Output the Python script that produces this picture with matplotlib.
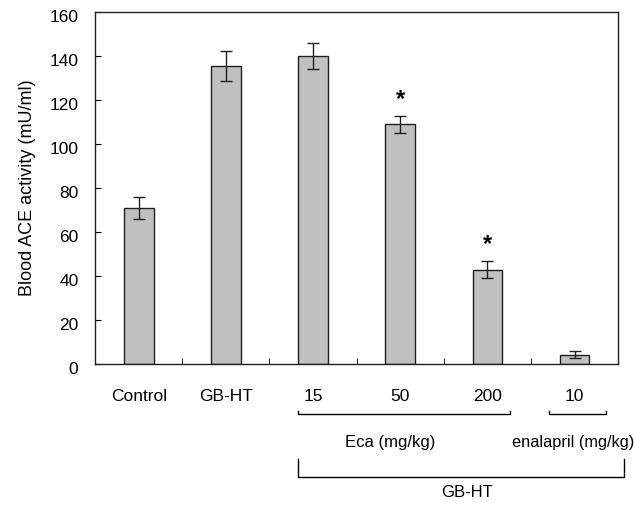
import numpy as np
import matplotlib
matplotlib.use("Agg")
import matplotlib.pyplot as plt
from matplotlib.transforms import ScaledTranslation

plt.rcParams['font.family'] = ['Liberation Sans', 'DejaVu Sans']

groups = ['Control', 'GB-HT', '15', '50', '200', '10']
ace = [71, 135.5, 140, 109, 43, 4.2]
ace_err = [5, 7, 6, 4, 4, 1.6]
significant = [False, False, False, True, True, False]

fig = plt.figure(figsize=(6.34, 5.05), dpi=100)
ax = fig.add_axes([0.150, 0.279, 0.825, 0.697])

x = np.arange(len(groups))
ax.bar(x, ace, width=0.34, color='#c0c0c0', edgecolor='#202020', linewidth=1.0, zorder=2)
ax.errorbar(x, ace, yerr=ace_err, fmt='none', ecolor='#202020', elinewidth=1.0,
            capsize=4, capthick=1.0, zorder=3)

# asterisks over significant bars
for xi, v, e, s in zip(x, ace, ace_err, significant):
    if s:
        ax.text(xi, v + e + 2.0, '*', ha='center', va='bottom', fontsize=17, fontweight='bold')

ax.set_xlim(-0.5, 5.5)
ax.set_ylim(0, 160)
ax.set_yticks(np.arange(0, 161, 20))
ax.set_xticks(x)
ax.set_xticklabels(groups, fontsize=12.5)
ax.set_xticks(np.arange(0.5, 5.5, 1), minor=True)
ax.tick_params(axis='y', direction='in', length=4, labelsize=12.5, pad=12)
ax.tick_params(axis='x', which='major', length=0, pad=18)
ax.tick_params(axis='x', which='minor', direction='in', length=4)
# y labels sit a little below their ticks in the original
shift = ScaledTranslation(0, -3 / 72, fig.dpi_scale_trans)
for lbl in ax.get_yticklabels():
    lbl.set_transform(lbl.get_transform() + shift)
ax.set_ylabel('Blood ACE activity (mU/ml)', fontsize=13, labelpad=10)
for sp in ax.spines.values():
    sp.set_linewidth(1.0)
    sp.set_color('#202020')

# group brackets below the axis
tr = ax.get_xaxis_transform()
kw = dict(color='black', lw=1.0, transform=tr, clip_on=False)
ax.plot([1.83, 1.83, 4.26, 4.26], [-0.133, -0.142, -0.142, -0.133], **kw)
ax.plot([4.71, 4.71, 5.36, 5.36], [-0.133, -0.142, -0.142, -0.133], **kw)
ax.plot([1.83, 1.83, 5.57, 5.57], [-0.270, -0.321, -0.321, -0.270], **kw)
ax.text(2.88, -0.222, 'Eca (mg/kg)', transform=tr, ha='center', va='center', fontsize=12)
ax.text(4.98, -0.222, 'enalapril (mg/kg)', transform=tr, ha='center', va='center', fontsize=11.8)
ax.text(3.77, -0.366, 'GB-HT', transform=tr, ha='center', va='center', fontsize=12)

fig.savefig('out.png', dpi=100)
